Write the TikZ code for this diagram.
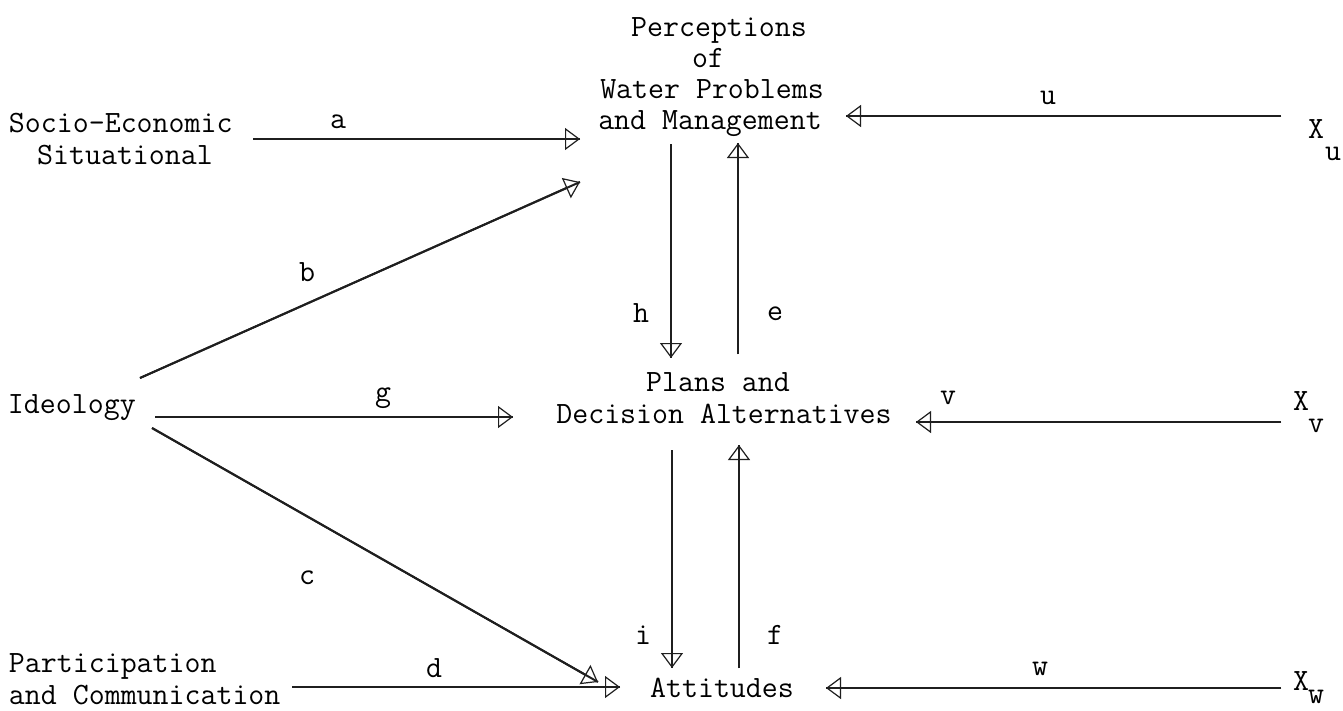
\documentclass[tikz,border=0pt]{standalone}
\usepackage{fontspec}
\usetikzlibrary{arrows.meta}
\newcommand{\twfont}{\ttfamily\addfontfeatures{FakeBold=1.2}\fontsize{31}{31}\selectfont}
\begin{document}
\begin{tikzpicture}[x=1pt,y=-1pt,
  txt/.style={inner sep=0pt,outer sep=0pt,font=\twfont,anchor=base},
  txtw/.style={txt,anchor=base west},
  lbl/.style={txt},
  conn/.style={line width=2pt,draw=black!88,
    -{Triangle[open,length=15pt,width=22pt,line width=1.2pt]},
    postaction={draw,-}}]
\useasboundingbox[fill=white] (0,0) rectangle (1343,710);
% texts
\node[txt] (perc1) at (719,36) {Perceptions};
\node[txt] (perc2) at (708,67) {of};
\node[txt] (perc3) at (712,98) {Water Problems};
\node[txt] (perc4) at (710,129) {and Management};
\node[txtw] (soc1) at (9,132) {Socio-Economic};
\node[txt] (soc2) at (125,164) {Situational};
\node[txtw] (ideo) at (8,413) {Ideology};
\node[txt] (plan1) at (718,391) {Plans and};
\node[txt] (plan2) at (724,423) {Decision Alternatives};
\node[txt] (att) at (722,697) {Attitudes};
\node[txtw] (part1) at (9,672) {Participation};
\node[txtw] (part2) at (9,704) {and Communication};
\node[txtw] (xu) at (1308,138) {X};
\node[txtw] (xus) at (1325,160) {u};
\node[txtw] (xv) at (1293,410) {X};
\node[txtw] (xvs) at (1308,432) {v};
\node[txtw] (xw) at (1293,690) {X};
\node[txtw] (xws) at (1308,703) {w};
% connector end points
\coordinate (a0) at (253,139); \coordinate (a1) at (580,139);
\coordinate (b0) at (140,378); \coordinate (b1) at (580,182);
\coordinate (g0) at (155,417); \coordinate (g1) at (513,417);
\coordinate (c0) at (152,428); \coordinate (c1) at (598,682);
\coordinate (d0) at (292,687); \coordinate (d1) at (620,687);
\coordinate (h0) at (671,144); \coordinate (h1) at (671,358);
\coordinate (e0) at (738,354); \coordinate (e1) at (738,143);
\coordinate (i0) at (672,450); \coordinate (i1) at (672,668);
\coordinate (f0) at (739,668); \coordinate (f1) at (739,445);
\coordinate (u0) at (1281,116); \coordinate (u1) at (846,116);
\coordinate (v0) at (1281,422); \coordinate (v1) at (916,422);
\coordinate (w0) at (1281,688); \coordinate (w1) at (826,688);
% connectors
\draw[conn] (a0) -- (a1);
\draw[conn] (b0) -- (b1);
\draw[conn] (g0) -- (g1);
\draw[conn] (c0) -- (c1);
\draw[conn] (d0) -- (d1);
\draw[conn] (h0) -- (h1);
\draw[conn] (e0) -- (e1);
\draw[conn] (i0) -- (i1);
\draw[conn] (f0) -- (f1);
\draw[conn] (u0) -- (u1);
\draw[conn] (v0) -- (v1);
\draw[conn] (w0) -- (w1);
% labels
\node[lbl] (la) at (338,128) {a};
\node[lbl] (lu) at (1048,104) {u};
\node[lbl] (lb) at (307,281) {b};
\node[lbl] (lg) at (383,401) {g};
\node[lbl] (lc) at (307,584) {c};
\node[lbl] (ld) at (434,677) {d};
\node[lbl] (lh) at (641,322) {h};
\node[lbl] (le) at (775,320) {e};
\node[lbl] (li) at (643,644) {i};
\node[lbl] (lf) at (775,644) {f};
\node[lbl] (lv) at (948,404) {v};
\node[lbl] (lw) at (1040,675) {w};
\end{tikzpicture}
\end{document}
